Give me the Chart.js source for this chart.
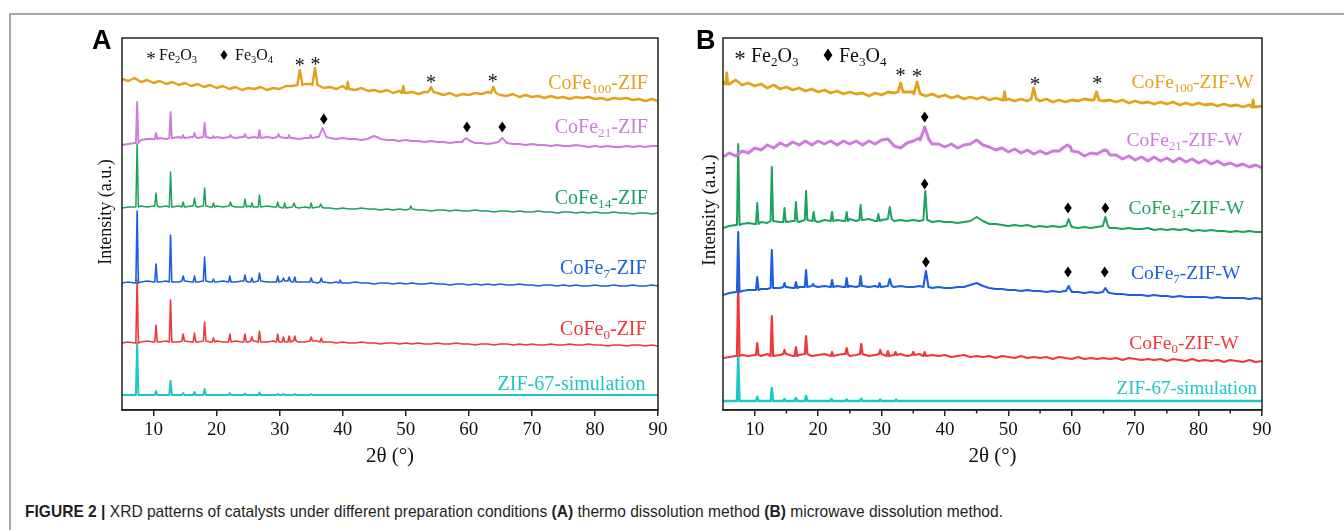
<!DOCTYPE html>
<html><head><meta charset="utf-8">
<script src="https://cdn.jsdelivr.net/npm/chart.js@4.4.0/dist/chart.umd.min.js"></script>
<style>
html,body{margin:0;padding:0;background:#fff;}
#wrap{position:relative;width:1344px;height:530px;overflow:hidden;background:#fff;}
#frame{position:absolute;left:9px;top:13px;width:1345px;height:530px;border-top:2px solid #a8a8a8;border-left:2px solid #a8a8a8;}
#cA{position:absolute;left:0;top:0;}
#cB{position:absolute;left:680px;top:0;}
.panel{position:absolute;font-family:"Liberation Sans",Arial,sans-serif;font-weight:bold;font-size:27px;line-height:27px;color:#000;}
#caption{position:absolute;left:25px;top:503px;white-space:nowrap;font-family:"Liberation Sans Narrow","Liberation Sans",Arial,sans-serif;font-size:17px;line-height:17px;color:#231f20;transform-origin:0 0;}
</style></head>
<body>
<div id="wrap">
<div id="frame"></div>
<canvas id="cA" width="680" height="480"></canvas>
<canvas id="cB" width="664" height="480"></canvas>
<div class="panel" style="left:92px;top:27px;">A</div>
<div class="panel" style="left:696px;top:27px;">B</div>
<div id="caption"><b>FIGURE 2 |</b> XRD patterns of catalysts under different preparation conditions <b>(A)</b> thermo dissolution method <b>(B)</b> microwave dissolution method.</div>
</div>
<script>
// ---------- DATA ----------
const angles = [5,6,7,8,9,10,11,12,13,14,15,16,17,18,19,20,21,22,23,24,25,26,27,28,29,30,31,32,33,34,35,36,37,38,39,40,41,42,43,44,45,46,47,48,49,50,51,52,53,54,55,56,57,58,59,60,61,62,63,64,65,66,67,68,69,70,71,72,73,74,75,76,77,78,79,80,81,82,83,84,85,86,87,88,89,90];
const simAngles = [5, 90];
const tickLabels = [10,20,30,40,50,60,70,80,90];
const minorTicksB = [15,25,35,45,55,65,75,85];

// Panel A (thermo dissolution) – stacked intensities (a.u.)
const cofe100A = [331,329,332,328,330,327,329,326,328,325, 327,324,326,323,325,322,324,321,323,320, 322,321,323,320,322,321,324,324,325,326, 326,325,322,323,321,324,321,320,322,319, 320,318,320,317,319,317,318,316,318,318, 317,315,317,314,316,315,317,316,318,317, 315,314,316,313,315,313,314,312,314,312, 313,311,313,312,313,311,312,310,312,311, 312,310,311,309,311,309];
const cofe100APeaks = [[33.2,340,0.4],[35.6,342,0.4],[40.8,328,0.2],[49.6,324,0.2],[54.0,323,0.4],[63.9,323,0.4]];
const cofe21A = [265,266,267,270,271,271,272,271,272,273, 272,273,272,273,272,273,272,273,272,273, 272,273,272,273,272,273,272,272,271,272, 272,273,273,272,271,272,271,271,270,271, 272,271,270,270,269,270,269,269,268,269, 268,268,267,268,268,269,267,267,266,267, 268,267,266,266,265,266,265,265,264,265, 264,264,265,264,263,264,263,264,263,263, 264,263,264,263,264,264];
const cofe21APeaks = [[7.4,308],[10.4,277],[12.7,298],[14.7,275],[16.5,277],[18.1,287],[19.5,274],[22.2,275],[24.5,276],[26.8,280],[29.8,276],[31.5,275],[34.9,275],[36.8,282,0.6],[45,274,0.8],[59.6,272,0.6],[65.3,272,0.6]];
const cofe14A = [202,203,203,204,203,204,203,204,203,204, 203,204,203,204,203,204,203,204,203,203, 204,203,203,204,203,203,202,203,202,203, 202,203,202,202,201,202,201,201,202,201, 201,200,201,200,201,200,201,200,200,199, 200,200,199,200,199,199,200,199,199,198, 199,199,198,199,198,198,199,198,198,197, 198,198,197,198,197,198,197,197,198,197, 197,196,197,197,196,197];
const cofe14APeaks = [[7.4,266],[10.4,217],[12.7,238],[14.7,208],[16.5,212],[18.1,222],[19.5,207],[22.2,208],[24.5,211],[25.6,207],[26.8,215],[29.7,208],[30.8,207],[32.3,207],[35,207],[36.5,206],[50.8,204]];
const cofe7A = [127,128,127,128,129,128,128,129,128,128, 129,128,128,129,128,128,129,128,128,129, 128,128,129,128,128,128,129,128,128,128, 128,127,128,127,128,127,127,128,127,127, 126,127,127,126,127,126,127,126,126,127, 126,126,125,126,126,125,126,125,126,125, 126,125,125,126,125,125,124,125,125,124, 125,124,125,124,124,125,124,124,125,124, 124,125,124,124,125,124];
const cofe7APeaks = [[7.4,199],[10.4,146],[12.7,175],[14.7,134],[16.5,134],[18.1,153],[19.5,131],[22.1,134],[24.5,135],[25.6,132],[26.8,137],[29.7,134],[30.6,132],[31.5,133],[32.4,133],[35,132],[36.6,132],[39.6,130]];
const cofe0A = [67,68,67,68,69,68,68,69,68,68, 69,68,68,69,68,69,68,68,69,68, 68,69,68,68,69,68,68,69,68,68, 69,69,68,68,67,68,67,67,68,67, 67,66,67,67,66,67,66,67,66,66, 67,66,66,67,66,66,65,66,66,65, 66,66,65,66,65,66,65,65,66,65, 65,66,65,65,66,65,65,64,65,65, 64,65,65,64,65,64];
const cofe0APeaks = [[7.4,130],[10.4,85],[12.7,110],[14.7,76],[16.5,77],[18.1,88],[19.5,72],[22.1,76],[24.5,76],[25.6,73],[26.8,79],[29.7,76],[30.6,73],[31.5,74],[32.4,74],[35,73],[36.6,72]];
const simA = [15, 15];
const simAPeaks = [[7.4,67],[10.4,19],[12.7,29],[14.7,17],[16.5,18],[18.1,21],[22.1,17],[24.5,16.5],[26.8,17.5],[29.7,16],[30.6,16],[32.4,16],[35,16]];

// Panel B (microwave dissolution)
const cofe100B = [328,326,330,325,327,324,326,322,325,321, 323,320,322,319,321,318,320,317,319,316, 318,316,317,314,317,315,318,317,318,318, 318,316,314,316,313,315,312,314,311,313, 311,313,310,312,310,311,309,311,309,311, 309,311,308,310,308,310,309,311,310,310, 309,310,308,310,307,309,307,308,306,308, 306,308,305,307,305,307,305,306,304,306, 304,305,303,305,303,304];
const cofe100BPeaks = [[5.6,337,0.15],[33.0,327,0.4],[35.6,328,0.5],[49.4,318,0.2],[54.0,322,0.4],[63.9,318,0.4],[88.6,310,0.15]];
const cofe21B = [253,257,254,259,257,262,260,265,262,267, 264,268,265,269,265,269,266,269,265,269, 266,269,265,269,266,270,271,264,262,267, 269,272,270,266,266,263,266,262,265,266, 270,265,263,260,262,258,261,257,260,256, 259,256,259,259,263,259,258,254,257,256, 259,255,255,251,254,250,253,249,253,249, 252,248,252,248,251,247,250,246,249,245, 247,244,246,243,245,242];
const cofe21BPeaks = [[36.8,283,0.7],[59.3,265,0.5],[65.2,260,0.4]];
const cofe14B = [182,184,185,186,187,186,188,187,189,188, 188,189,188,190,189,188,190,189,190,189, 191,189,190,191,189,190,191,189,190,189, 190,189,190,188,189,188,188,187,188,189, 193,189,186,186,185,184,185,184,185,183, 184,183,184,183,184,183,182,183,182,183, 184,182,182,181,182,181,181,182,180,181, 180,181,180,181,179,180,179,180,179,179, 178,179,178,179,178,178];
const cofe14BPeaks = [[7.4,266],[10.4,207],[12.7,243],[14.7,202],[16.5,208],[18.1,219],[19.3,198],[22.2,198],[24.5,198],[26.7,205],[29.5,196],[31.3,203,0.3],[36.9,219,0.3],[59.5,191,0.4],[65.3,193,0.4]];
const cofe7B = [115,117,118,119,120,120,121,121,122,122, 123,122,123,123,124,123,124,123,124,123, 124,123,124,123,124,123,124,123,124,123, 123,124,123,122,123,122,122,123,123,125, 127,124,122,121,121,120,120,119,120,119, 119,118,119,118,119,118,118,117,118,117, 118,117,116,116,115,115,115,114,115,114, 114,113,114,113,113,113,113,112,113,112, 112,112,112,111,112,111];
const cofe7BPeaks = [[7.4,178],[10.4,133],[12.7,160],[14.7,127],[16.5,128],[18.1,140],[19.2,126],[22.2,130],[24.5,132],[26.7,134],[29.7,127],[31.3,131,0.3],[37.0,139,0.4],[59.5,124,0.4],[65.3,122,0.4]];
const cofe0B = [52,53,54,55,54,55,54,56,54,55, 56,54,55,56,54,55,56,54,55,56, 54,55,56,54,55,56,54,55,56,54, 55,56,54,55,54,55,53,54,55,53, 54,53,54,52,54,53,52,54,52,53, 52,53,51,53,52,51,53,51,52,51, 52,51,52,50,52,51,50,51,50,51, 49,51,50,49,51,49,50,49,50,48, 50,49,48,50,48,49];
const cofe0BPeaks = [[7.4,128],[10.4,67],[12.7,94],[14.7,60],[16.5,63],[18.1,74],[22.2,58],[24.5,62],[26.8,66],[29.8,60],[31.0,59],[32.2,58],[35.0,58],[36.8,58]];
const simB = [9, 9];
const simBPeaks = [[7.4,53],[10.4,13],[12.7,22],[14.7,11],[16.5,12],[18.1,14],[22.1,11],[24.5,10.5],[26.8,11.5],[29.8,10.5],[32.3,10.5]];

const namesA = ['CoFe_{100}-ZIF','CoFe_{21}-ZIF','CoFe_{14}-ZIF','CoFe_{7}-ZIF','CoFe_{0}-ZIF','ZIF-67-simulation'];
const namesB = ['CoFe_{100}-ZIF-W','CoFe_{21}-ZIF-W','CoFe_{14}-ZIF-W','CoFe_{7}-ZIF-W','CoFe_{0}-ZIF-W','ZIF-67-simulation'];
// phase reflections marked in the figure: [2θ, a.u.]
const fe2o3A = [[33.2,348],[35.7,349],[54.0,331],[63.8,332]];
const fe3o4A = [[37.0,291],[59.7,283],[65.3,283]];
const fe2o3B = [[33.0,338],[35.6,337],[54.2,329],[64.0,330]];
const fe3o4B = [[36.8,293],[36.8,226],[59.4,202],[65.3,202],[37.0,148],[59.4,138],[65.2,138]];

// ---------- STYLE / LAYOUT ----------
const colors = ['#E3A21A','#CE7BDB','#1BA35E','#1A5FE0','#F0383A','#1FC6C6'];
const SERIF = '"Liberation Serif","Times New Roman",serif';

function buildSeries(grid, base, peaks){
  const pts = [];
  grid.forEach((x,i)=>{
    if(!peaks.some(p=>Math.abs(x-p[0]) <= (p[2]||0.2))) pts.push({x:x, y:base[i]});
  });
  peaks.forEach(p=>{
    const hw = p[2]||0.2;
    let ni=0, best=Infinity;
    grid.forEach((x,i)=>{const d=Math.abs(x-p[0]); if(d<best){best=d; ni=i;}});
    const foot = base[ni];
    pts.push({x:p[0]-hw, y:foot},{x:p[0], y:p[1]},{x:p[0]+hw, y:foot});
  });
  pts.sort((a,b)=>a.x-b.x);
  return pts;
}

function parseRich(s){
  const parts=[]; const re=/_\{([^}]*)\}/g; let last=0, m;
  while((m=re.exec(s))){ if(m.index>last) parts.push([s.slice(last,m.index),false]); parts.push([m[1],true]); last=re.lastIndex; }
  if(last<s.length) parts.push([s.slice(last),false]);
  return parts;
}
function drawRich(ctx, s, x, y, size, align, color){
  const parts = parseRich(s);
  const sub = size*0.66;
  const w = parts.map(([t,isSub])=>{ ctx.font = `${isSub?sub:size}px ${SERIF}`; return ctx.measureText(t).width; });
  const total = w.reduce((a,b)=>a+b,0);
  let cx = align==='right' ? x-total : (align==='center' ? x-total/2 : x);
  ctx.fillStyle = color; ctx.textAlign='left'; ctx.textBaseline='alphabetic';
  const base = y + 0.33*size;
  parts.forEach(([t,isSub],i)=>{ ctx.font = `${isSub?sub:size}px ${SERIF}`; ctx.fillText(t, cx, isSub ? base+0.2*size : base); cx += w[i]; });
}
function drawStar(ctx, x, y, size){
  ctx.font = `${size}px ${SERIF}`; ctx.textAlign='center'; ctx.textBaseline='alphabetic'; ctx.fillStyle='#111';
  const m = ctx.measureText('*');
  ctx.fillText('*', x, y + (m.actualBoundingBoxAscent - m.actualBoundingBoxDescent)/2);
}
function drawDiamond(ctx, x, y, hw, hh){
  ctx.fillStyle='#000'; ctx.beginPath(); ctx.moveTo(x, y-hh); ctx.lineTo(x+hw, y); ctx.lineTo(x, y+hh); ctx.lineTo(x-hw, y); ctx.closePath(); ctx.fill();
}

function decor(cfg){
  return {
    id:'decor',
    afterDraw(chart){
      const {ctx, chartArea:a, scales:{x, y}} = chart;
      ctx.save();
      ctx.strokeStyle='#222'; ctx.lineWidth=1.5;
      ctx.strokeRect(a.left, a.top, a.right-a.left, a.bottom-a.top);
      cfg.minor.forEach(v=>{ const px=x.getPixelForValue(v); ctx.beginPath(); ctx.moveTo(px,a.bottom); ctx.lineTo(px,a.bottom+3.5); ctx.stroke(); });
      // y title
      ctx.save();
      ctx.translate(cfg.yTitle[0], cfg.yTitle[1]); ctx.rotate(-Math.PI/2);
      ctx.font = `${cfg.yTitle[2]}px ${SERIF}`; ctx.fillStyle='#111'; ctx.textAlign='center'; ctx.textBaseline='middle';
      ctx.fillText('Intensity (a.u.)', 0, 0);
      ctx.restore();
      // phase legend
      const L = cfg.legend;
      drawStar(ctx, L.star, L.y, L.size+3);
      drawRich(ctx, 'Fe_{2}O_{3}', L.t1, L.y, L.size, 'left', '#111');
      drawDiamond(ctx, L.dia, L.y, L.size*0.22, L.size*0.32);
      drawRich(ctx, 'Fe_{3}O_{4}', L.t2, L.y, L.size, 'left', '#111');
      // series labels
      cfg.names.forEach((n,i)=>{
        const p = cfg.labelPos[i];
        drawRich(ctx, n, x.getPixelForValue(p[0]), y.getPixelForValue(p[1]), p[2], 'right', colors[i]);
      });
      // reflection markers
      cfg.stars.forEach(s=>drawStar(ctx, x.getPixelForValue(s[0]), y.getPixelForValue(s[1]), cfg.starSize));
      cfg.dias.forEach(d=>drawDiamond(ctx, x.getPixelForValue(d[0]), y.getPixelForValue(d[1]), 3.8, 5.5));
      ctx.restore();
    }
  };
}

function makeChart(id, cfg){
  return new Chart(document.getElementById(id), {
    type:'line',
    data:{ datasets: cfg.series.map((s,i)=>({ data:s, borderColor:colors[i], borderWidth:cfg.widths[i], pointRadius:0, tension:0, fill:false, borderJoinStyle:'round' })) },
    options:{
      responsive:false, animation:false, devicePixelRatio:1,
      layout:{ padding:{ left:cfg.padL, right:cfg.padR, top:38, bottom:7 } },
      plugins:{ legend:{display:false}, tooltip:{enabled:false} },
      scales:{
        x:{ type:'linear', min:5, max:90,
            afterBuildTicks: sc=>{ sc.ticks = tickLabels.map(v=>({value:v})); },
            ticks:{ font:{family:SERIF, size:cfg.tickSize}, color:'#111', padding:3, maxRotation:0, autoSkip:false },
            grid:{ display:true, drawOnChartArea:false, drawTicks:true, tickLength:6, color:'#222', lineWidth:1.5 },
            border:{ display:true, color:'#222', width:1.5 },
            title:{ display:true, text:'2θ (°)', font:{family:SERIF, size:21}, color:'#111', padding:{top:0, bottom:4} },
            afterFit: sc=>{ sc.height = 63; } },
        y:{ display:false, min:0, max:372 }
      }
    },
    plugins:[decor(cfg)]
  });
}

makeChart('cA', {
  series:[buildSeries(angles,cofe100A,cofe100APeaks), buildSeries(angles,cofe21A,cofe21APeaks), buildSeries(angles,cofe14A,cofe14APeaks),
          buildSeries(angles,cofe7A,cofe7APeaks), buildSeries(angles,cofe0A,cofe0APeaks), buildSeries(simAngles,simA,simAPeaks)],
  widths:[2.4,1.9,1.5,1.6,1.6,2.0],
  padL:122, padR:22, tickSize:19, minor:[],
  yTitle:[106, 212, 18],
  legend:{star:151, t1:159, dia:224, t2:235, y:55, size:16},
  names:namesA,
  labelPos:[[88.4,328,20],[88.4,284,20],[88.4,213,20],[88.2,143,20],[88.2,82,20],[88.0,27,20]],
  stars:fe2o3A, dias:fe3o4A, starSize:20
});
makeChart('cB', {
  series:[buildSeries(angles,cofe100B,cofe100BPeaks), buildSeries(angles,cofe21B,cofe21BPeaks), buildSeries(angles,cofe14B,cofe14BPeaks),
          buildSeries(angles,cofe7B,cofe7BPeaks), buildSeries(angles,cofe0B,cofe0BPeaks), buildSeries(simAngles,simB,simBPeaks)],
  widths:[2.8,3.0,2.0,2.1,2.2,2.4],
  padL:43, padR:82, tickSize:19, minor:minorTicksB,
  yTitle:[30, 210, 19],
  legend:{star:60, t1:71, dia:148, t2:159, y:55, size:20},
  names:namesB,
  labelPos:[[88.7,328,19.5],[86.9,270,19.5],[87.2,202,19.5],[86.6,137,19.5],[86.3,67,19.5],[89.2,22,19]],
  stars:fe2o3B, dias:fe3o4B, starSize:21
});

// fit caption width
const cap = document.getElementById('caption');
const cw = cap.getBoundingClientRect().width;
cap.style.transform = `scaleX(${978/cw})`;
</script>
</body></html>
